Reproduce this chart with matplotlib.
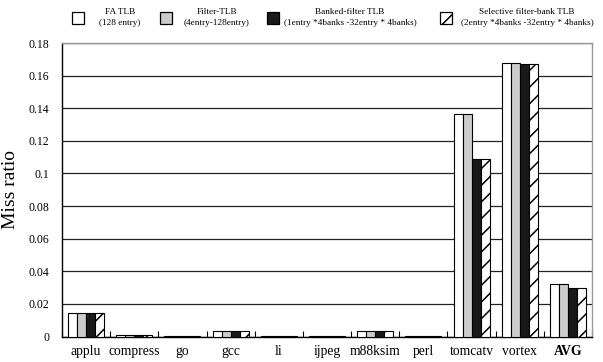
import numpy as np
import matplotlib
matplotlib.use('Agg')
import matplotlib.pyplot as plt
from matplotlib.patches import Rectangle

benchmarks = ['applu', 'compress', 'go', 'gcc', 'li', 'ijpeg', 'm88ksim',
              'perl', 'tomcatv', 'vortex', 'AVG']

fa_tlb = [0.0145, 0.001, 0.0005, 0.0035, 0.0005, 0.0005, 0.0035,
          0.0005, 0.1365, 0.1675, 0.0325]
filter_tlb = [0.0145, 0.001, 0.0005, 0.0035, 0.0005, 0.0005, 0.0035,
              0.0005, 0.1365, 0.1675, 0.0325]
banked_tlb = [0.0145, 0.001, 0.0005, 0.0035, 0.0005, 0.0005, 0.0035,
              0.0005, 0.109, 0.167, 0.030]
selective_tlb = [0.0145, 0.001, 0.0005, 0.0035, 0.0005, 0.0005, 0.0035,
                 0.0005, 0.109, 0.167, 0.030]

series = [fa_tlb, filter_tlb, banked_tlb, selective_tlb]
names = ['FA TLB\n(128 entry)',
         'Filter-TLB\n(4entry-128entry)',
         'Banked-filter TLB\n(1entry *4banks -32entry * 4banks)',
         'Selective filter-bank TLB\n(2entry *4banks -32entry * 4banks)']
faces = ['white', '#cccccc', '#1a1a1a', 'white']
hatches = [None, None, None, '//']

plt.rcParams['font.family'] = 'Liberation Serif'
plt.rcParams['hatch.linewidth'] = 1.1

W, H = 603, 362
fig = plt.figure(figsize=(W / 100, H / 100), dpi=100)
ax = fig.add_axes([62 / W, 1 - 336.5 / H, 530 / W, 293.5 / H])

x = np.arange(len(benchmarks))
bw = 0.187
for k, vals in enumerate(series):
    ax.bar(x + (k - 1.5) * bw, vals, bw, color=faces[k], edgecolor='black',
           linewidth=0.8, hatch=hatches[k], zorder=3)

ax.set_xlim(-0.5, len(benchmarks) - 0.5)
ax.set_ylim(0, 0.18)
ax.set_yticks(np.arange(0, 0.1801, 0.02))
ax.set_yticklabels(['%g' % round(v, 2) for v in np.arange(0, 0.1801, 0.02)])
ax.yaxis.grid(True, color='#222222', linewidth=0.9, zorder=0)
ax.set_axisbelow(True)
ax.tick_params(axis='y', length=0, pad=9, labelsize=8.5)

ax.set_xticks(x)
ax.set_xticklabels(benchmarks)
ax.tick_params(axis='x', length=0, pad=6, labelsize=9.8)
ax.get_xticklabels()[-1].set_fontweight('bold')
ax.set_xticks(np.arange(len(benchmarks) + 1) - 0.5, minor=True)
ax.tick_params(axis='x', which='minor', direction='in', length=4,
               width=0.8, color='black')

ax.set_ylabel('Miss ratio', fontsize=14, labelpad=7)

for side in ['left', 'bottom']:
    ax.spines[side].set_color('black')
    ax.spines[side].set_linewidth(1.0)
for side in ['top', 'right']:
    ax.spines[side].set_color('#999999')
    ax.spines[side].set_linewidth(1.0)

# legend row above the axes, drawn in pixel-based figure coordinates
box_left = [72, 160, 267, 440]
text_mid = [120, 217, 350, 527]
for k in range(4):
    fig.add_artist(Rectangle((box_left[k] / W, 1 - 24 / H), 12 / W, 12 / H,
                             transform=fig.transFigure, facecolor=faces[k],
                             edgecolor='black', linewidth=0.9,
                             hatch='/' if hatches[k] else None))
    fig.text(text_mid[k] / W, 1 - 17.5 / H, names[k], ha='center', va='center',
             multialignment='center', fontsize=6.7, linespacing=1.4)

fig.savefig('out.png', dpi=100)
